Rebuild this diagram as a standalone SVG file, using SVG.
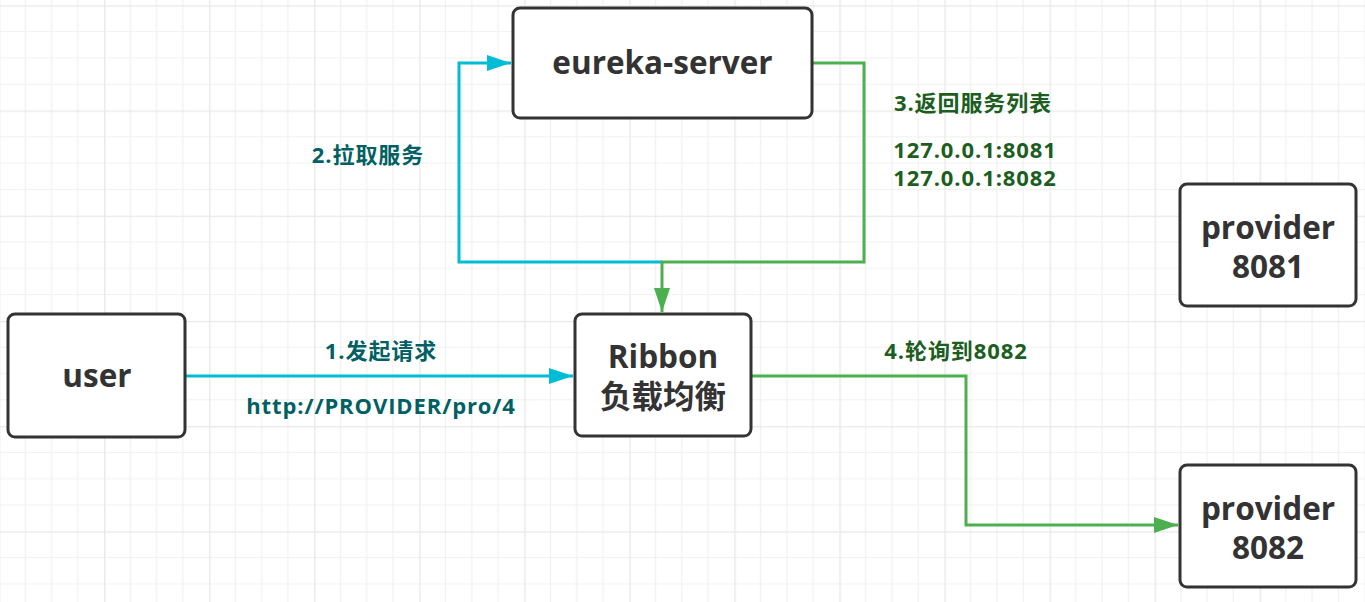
<svg xmlns="http://www.w3.org/2000/svg" width="1365" height="602" viewBox="0 0 1365 602">
  <defs>
    <pattern id="grid" patternUnits="userSpaceOnUse" x="-1" y="5.3" width="105.05" height="105.2">
      <rect width="105.05" height="105.2" fill="#ffffff"/>
      <g stroke="#f1f1f1" stroke-width="1.2">
        <line x1="26.26" y1="0" x2="26.26" y2="105.2"/>
        <line x1="52.52" y1="0" x2="52.52" y2="105.2"/>
        <line x1="78.79" y1="0" x2="78.79" y2="105.2"/>
        <line x1="0" y1="26.3" x2="105.05" y2="26.3"/>
        <line x1="0" y1="52.6" x2="105.05" y2="52.6"/>
        <line x1="0" y1="78.9" x2="105.05" y2="78.9"/>
      </g>
      <g stroke="#e8e8e8" stroke-width="1.6">
        <line x1="0.5" y1="0" x2="0.5" y2="105.2"/>
        <line x1="0" y1="0.5" x2="105.05" y2="0.5"/>
      </g>
    </pattern>
    <marker id="arrCyan" viewBox="0 0 24 16" refX="24" refY="8" markerWidth="24" markerHeight="16" markerUnits="userSpaceOnUse" orient="auto">
      <path d="M0,0 L24,8 L0,16 Z" fill="#00bcd4"/>
    </marker>
    <marker id="arrGreen" viewBox="0 0 24 16" refX="24" refY="8" markerWidth="24" markerHeight="16" markerUnits="userSpaceOnUse" orient="auto">
      <path d="M0,0 L24,8 L0,16 Z" fill="#4caf50"/>
    </marker>
  </defs>
  <style>
    .node rect { fill: #ffffff; stroke: #333333; stroke-width: 3; }
    .node text { font-family: "Open Sans", "Noto Sans CJK SC", sans-serif; font-weight: bold; font-size: 31.5px; fill: #333333; text-anchor: middle; }
    .cyan { fill: none; stroke: #00bcd4; stroke-width: 3; }
    .green { fill: none; stroke: #4caf50; stroke-width: 3; }
    .lbl { font-family: "Open Sans", "Noto Sans CJK SC", sans-serif; font-weight: bold; font-size: 22px; letter-spacing: 0.9px; text-anchor: middle; }
    .teal { fill: #006064; }
    .dgreen { fill: #1b5e20; }
  </style>
  <rect x="0" y="0" width="1365" height="602" fill="url(#grid)"/>

  <g id="connectors">
    <path class="cyan" d="M185,376 L573,376" marker-end="url(#arrCyan)"/>
    <path class="cyan" d="M662,262 L459,262 L459,63 L511,63" marker-end="url(#arrCyan)"/>
    <path class="green" d="M812,63 L864,63 L864,262 L662,262 L662,312" marker-end="url(#arrGreen)"/>
    <path class="green" d="M751,376 L966,376 L966,525 L1178,525" marker-end="url(#arrGreen)"/>
  </g>

  <g id="labels">
    <text class="lbl teal" x="368" y="163">2.拉取服务</text>
    <text class="lbl dgreen" x="973" y="111">3.返回服务列表</text>
    <text class="lbl dgreen" x="975" y="158">127.0.0.1:8081</text>
    <text class="lbl dgreen" x="975" y="186">127.0.0.1:8082</text>
    <text class="lbl teal" x="381" y="359">1.发起请求</text>
    <text class="lbl teal" x="381" y="414">http://PROVIDER/pro/4</text>
    <text class="lbl dgreen" x="956" y="359">4.轮询到8082</text>
  </g>

  <g id="eureka-server" class="node">
    <rect x="513" y="8" width="299" height="110" rx="7"/>
    <text x="662.5" y="74">eureka-server</text>
  </g>
  <g id="user" class="node">
    <rect x="8" y="314" width="177" height="123" rx="7"/>
    <text x="97" y="387">user</text>
  </g>
  <g id="ribbon" class="node">
    <rect x="575" y="314" width="176" height="122" rx="7"/>
    <text x="663" y="368">Ribbon</text>
    <text x="663" y="408">负载均衡</text>
  </g>
  <g id="provider-8081" class="node">
    <rect x="1180" y="184" width="176" height="122" rx="7"/>
    <text x="1268" y="239">provider</text>
    <text x="1268" y="278">8081</text>
  </g>
  <g id="provider-8082" class="node">
    <rect x="1180" y="465" width="176" height="122" rx="7"/>
    <text x="1268" y="520">provider</text>
    <text x="1268" y="559">8082</text>
  </g>
</svg>
